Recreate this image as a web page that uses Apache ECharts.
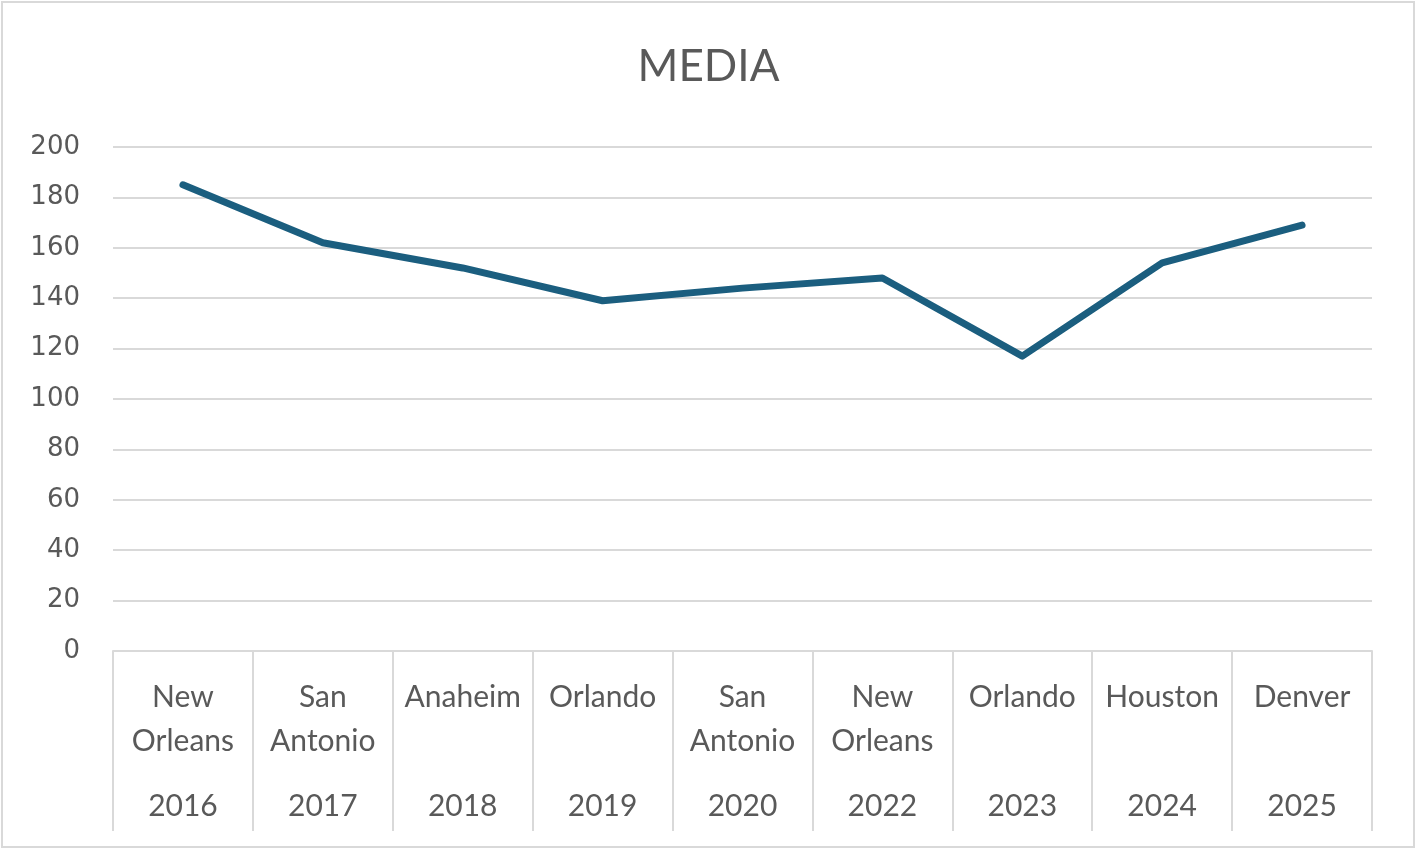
<!DOCTYPE html>
<html>
<head>
<meta charset="utf-8">
<script src="https://cdn.jsdelivr.net/npm/echarts@6/dist/echarts.min.js"></script>
<style>
  html, body { margin: 0; padding: 0; background: #fff; }
  #main { width: 1417px; height: 850px; }
</style>
</head>
<body>
<div id="main"></div>
<script>
const years = ['2016', '2017', '2018', '2019', '2020', '2022', '2023', '2024', '2025']
const cities = ['New\nOrleans', 'San\nAntonio', 'Anaheim', 'Orlando', 'San\nAntonio',
  'New\nOrleans', 'Orlando', 'Houston', 'Denver']
const media = [185, 162, 152, 139, 144, 148, 117, 154, 169]
const yTicks = { min: 0, max: 200, interval: 20 }

const textColor = '#595959'
const lineGray = '#d9d9d9'
const font = 'Lato, "Noto Sans", sans-serif'

let myChart = echarts.init(document.getElementById('main'))
myChart.setOption({
  animation: false,
  title: {
    text: 'MEDIA',
    left: 'center',
    top: 40,
    textStyle: { color: textColor, fontSize: 44, fontWeight: 'normal', fontFamily: font }
  },
  graphic: [{
    type: 'rect',
    shape: { x: 2, y: 2, width: 1412, height: 845 },
    style: { fill: 'none', stroke: lineGray, lineWidth: 2 },
    silent: true
  }],
  grid: { left: 113, right: 45, top: 147, bottom: 199 },
  xAxis: [
    {
      type: 'category',
      data: years,
      position: 'bottom',
      axisLine: { lineStyle: { color: lineGray, width: 2 } },
      axisTick: { show: true, length: 180, lineStyle: { color: lineGray, width: 2 } },
      axisLabel: { color: textColor, fontSize: 30, fontFamily: font, margin: 140, interval: 0 }
    },
    {
      type: 'category',
      data: cities,
      position: 'bottom',
      axisLine: { show: false },
      axisTick: { show: false },
      axisLabel: {
        color: textColor, fontSize: 30, fontFamily: font, lineHeight: 44,
        margin: 24, interval: 0, verticalAlign: 'top'
      }
    }
  ],
  yAxis: {
    type: 'value',
    min: yTicks.min,
    max: yTicks.max,
    interval: yTicks.interval,
    axisLine: { show: false },
    axisTick: { show: false },
    axisLabel: { color: textColor, fontSize: 26, fontFamily: '"DejaVu Sans", sans-serif', margin: 33 },
    splitLine: { lineStyle: { color: lineGray, width: 2 } }
  },
  series: [
    {
      name: 'MEDIA',
      type: 'line',
      data: media,
      symbol: 'none',
      lineStyle: { color: '#1b5e7f', width: 7, cap: 'round', join: 'round' }
    }
  ]
})
</script>
</body>
</html>
